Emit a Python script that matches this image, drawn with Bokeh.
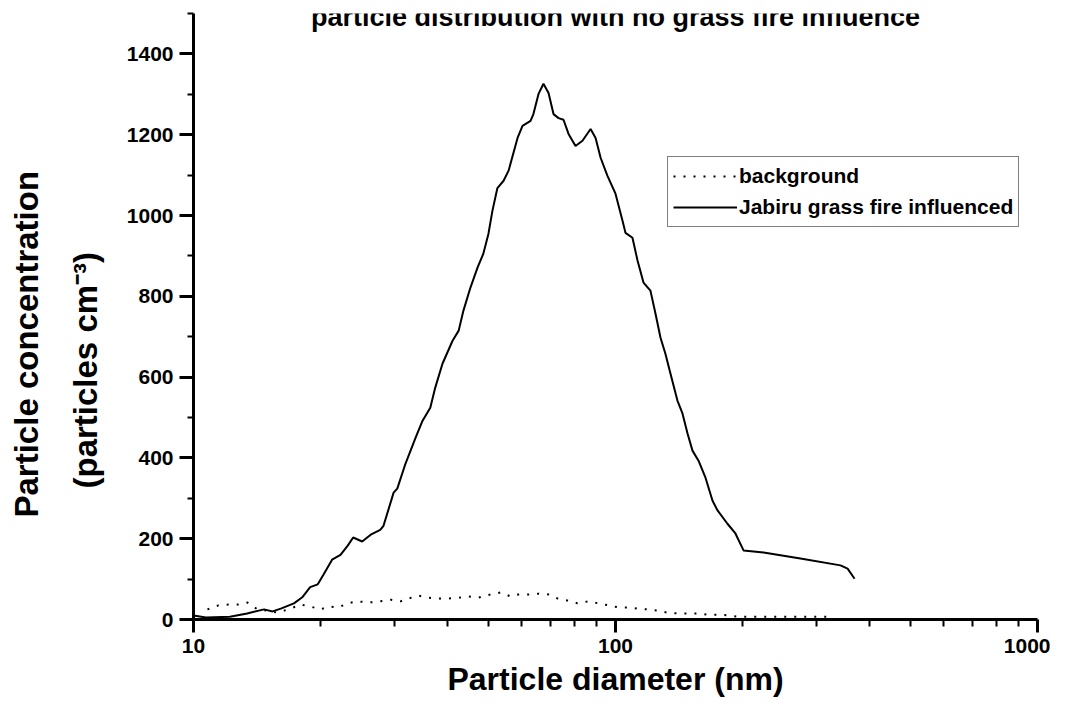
import math
from bokeh.plotting import figure
from bokeh.models import (Range1d, FixedTicker, SingleIntervalTicker, PrintfTickFormatter,
                          Label, Legend, LegendItem, Title)
from bokeh.embed import file_html
from bokeh.resources import INLINE

# Jabiru grass fire influenced (diameter nm, concentration)
fire_d = [10.0, 10.7, 12.2, 13.4, 14.7, 15.4, 16.1, 17.3, 18.1, 18.9, 19.7, 20.3, 21.3, 22.3,
          23.2, 23.9, 25.1, 26.3, 27.7, 28.2, 29.8, 30.4, 31.8, 33.6, 34.9, 36.4, 37.4, 38.9,
          41.1, 42.5, 43.6, 45.3, 47.1, 48.6, 50.0, 51.1, 52.5, 54.3, 55.8, 58.6, 60.2, 62.9,
          63.9, 65.7, 67.5, 69.4, 71.3, 73.3, 75.3, 77.4, 80.4, 83.5, 87.3, 89.7, 92.2, 95.7,
          100.0, 103.9, 105.6, 109.7, 112.8, 116.5, 121.0, 124.4, 127.8, 131.3, 135.0, 140.2,
          144.1, 148.2, 152.2, 157.3, 163.4, 169.8, 174.5, 184.2, 192.4, 201.1, 224.3, 274.3,
          341.4, 354.8, 368.6]
fire_v = [10, 5, 7, 15, 25, 20, 27, 40, 55, 80, 87, 110, 148, 160,
          183, 203, 193, 210, 222, 232, 314, 324, 386, 450, 492, 524, 574, 633,
          690, 715, 764, 821, 871, 905, 955, 1012, 1068, 1086, 1111, 1192, 1222, 1234,
          1251, 1301, 1326, 1303, 1251, 1241, 1237, 1202, 1172, 1185, 1214, 1192, 1143, 1098,
          1054, 987, 957, 945, 888, 834, 814, 757, 698, 658, 608, 542,
          510, 460, 418, 393, 351, 294, 270, 237, 213, 171, 166, 151,
          134, 126, 101]

# background
bg_d = [10.79, 11.46, 12.10, 12.78, 13.42, 14.18, 14.97, 15.81, 16.98, 17.93, 18.94, 20.0,
        20.89, 22.06, 23.17, 24.47, 25.98, 27.74, 29.30, 30.94, 32.32, 34.13, 36.04, 38.07,
        40.20, 42.45, 44.83, 47.34, 50.58, 53.41, 56.40, 58.9, 62.2, 65.7, 69.4, 72.9, 76.9,
        81.3, 86.3, 91.1, 96.2, 101.6, 107.4, 112.8, 119.1, 125.8, 132.8, 140.2, 148.2, 157.3,
        166.1, 175.4, 185.3, 195.6, 220.6, 259.8, 328.6]
bg_v = [25, 35, 37, 37, 42, 25, 22, 17, 27, 37, 32, 25,
        32, 30, 40, 45, 42, 45, 49, 45, 52, 59, 54, 52,
        52, 54, 57, 54, 62, 67, 57, 62, 62, 64, 62, 52, 47,
        40, 45, 40, 35, 30, 30, 27, 25, 22, 17, 15, 15, 15,
        12, 12, 10, 7, 7, 7, 7]

x_major = [10, 100, 1000]
x_minor = [20, 30, 40, 50, 60, 70, 80, 90, 200, 300, 400, 500, 600, 700, 800, 900]

title_text = "particle distribution with no grass fire influence"
x_label = "Particle diameter (nm)"
y_label_1 = "Particle concentration"
y_label_2 = "(particles cm\u207b\u00b3)"
FONT = "Liberation Sans"

# frame geometry (canvas pixels)
W, H = 1050, 706
LEFT, TOP, FW, FH = 193, 13, 844, 606
X0, X1, Y0, Y1 = 10, 1000, 0, 1500

p = figure(width=W, height=H, x_axis_type="log", output_backend="svg",
           toolbar_location=None, x_range=Range1d(X0, X1), y_range=Range1d(Y0, Y1),
           min_border_left=LEFT, min_border_right=W - LEFT - FW, min_border_top=TOP,
           min_border_bottom=H - TOP - FH)
p.outline_line_color = None
p.xgrid.visible = False
p.ygrid.visible = False

r_bg = p.line(bg_d, bg_v, line_color="black", line_width=2, line_dash="2 8")
r_fire = p.line(fire_d, fire_v, line_color="black", line_width=2)

xa = p.xaxis[0]
xa.ticker = FixedTicker(ticks=x_major, minor_ticks=x_minor)
xa.formatter = PrintfTickFormatter(format="%d")
ya = p.yaxis[0]
ya.ticker = SingleIntervalTicker(interval=200, num_minor_ticks=2)

for ax in (xa, ya):
    ax.axis_line_width = 3
    ax.axis_line_color = "black"
    ax.major_tick_line_width = 3
    ax.minor_tick_line_width = 2
    ax.major_tick_line_color = "black"
    ax.minor_tick_line_color = "black"
    ax.major_tick_in = 0
    ax.minor_tick_in = 0
    ax.major_label_text_font = FONT
    ax.major_label_text_font_style = "bold"
    ax.major_label_text_font_size = "21px"
    ax.major_label_text_color = "black"
    ax.axis_label_text_font = FONT
    ax.axis_label_text_font_style = "bold"
    ax.axis_label_text_font_size = "32px"
    ax.axis_label_text_color = "black"

xa.major_tick_out = 13
xa.minor_tick_out = 7
ya.major_tick_out = 14
ya.minor_tick_out = 6
xa.major_label_standoff = 6
ya.major_label_standoff = 6
xa.axis_label = x_label
xa.axis_label_standoff = 5

# y axis label as two stacked side titles (nearest first)
t2 = Title(text=y_label_2, align="left", offset=131, standoff=40,
           text_font=FONT, text_font_style="bold", text_font_size="33px", text_color="black")
t1 = Title(text=y_label_1, align="left", offset=102, standoff=0,
           text_font=FONT, text_font_style="bold", text_font_size="33px", text_color="black")
p.add_layout(t2, "left")
p.add_layout(t1, "left")

# title (partially above the page, as in the reference)
p.add_layout(Label(x=100, y=1492, text=title_text, text_align="center",
                   text_baseline="alphabetic", text_font=FONT, text_font_style="bold",
                   text_font_size="27px", text_color="black"))

legend = Legend(items=[LegendItem(label="background", renderers=[r_bg]),
                       LegendItem(label="Jabiru grass fire influenced", renderers=[r_fire])],
                location=(667 - LEFT, TOP + FH - 227), orientation="vertical")
legend.label_text_font = FONT
legend.label_text_font_style = "bold"
legend.label_text_font_size = "21px"
legend.label_text_color = "black"
legend.border_line_color = "black"
legend.border_line_width = 1.5
legend.background_fill_alpha = 1
legend.glyph_width = 64
legend.glyph_height = 28
legend.label_standoff = 2
legend.padding = 5
legend.spacing = 3
legend.margin = 0
p.add_layout(legend, "center")

open("out.html", "w").write(file_html(p, INLINE))
